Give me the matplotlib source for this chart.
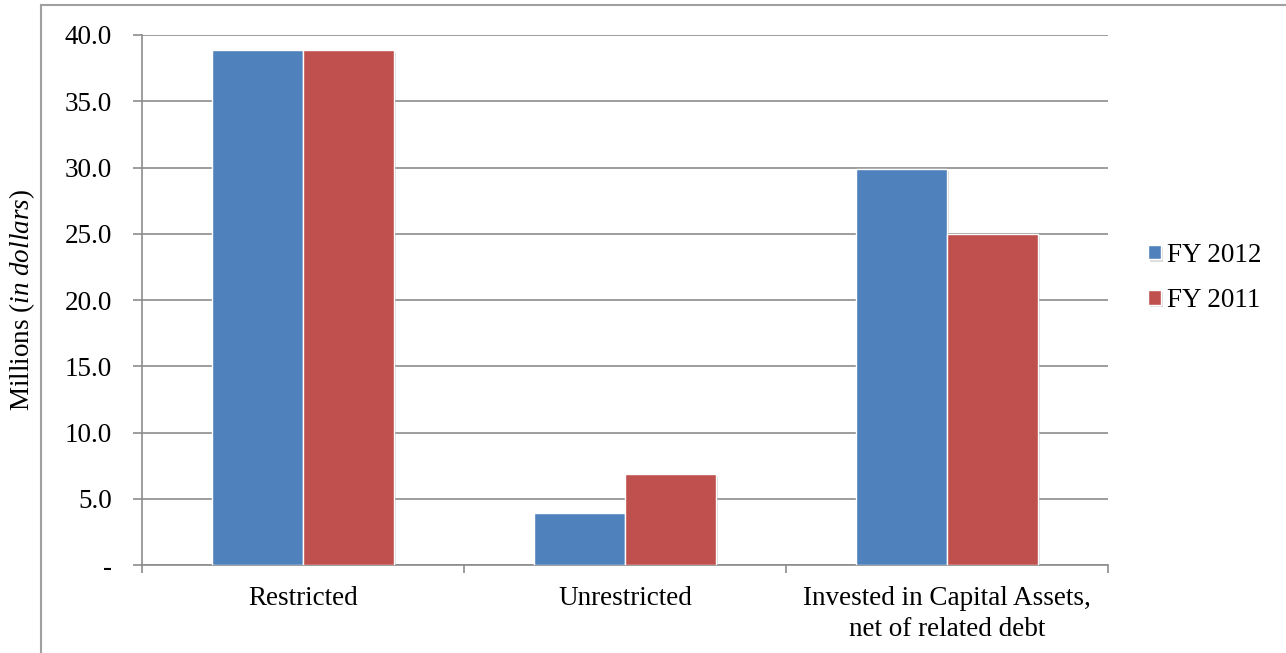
import matplotlib.pyplot as plt
import matplotlib.patheffects as pe
from matplotlib.lines import Line2D
import numpy as np

categories = ['Restricted', 'Unrestricted', 'Invested in Capital Assets,\nnet of related debt']
fy2012 = [38.9, 3.9, 29.9]
fy2011 = [38.9, 6.9, 25.0]
yticks = [0, 5, 10, 15, 20, 25, 30, 35, 40]
ytick_labels = ['-', '5.0', '10.0', '15.0', '20.0', '25.0', '30.0', '35.0', '40.0']

plt.rcParams['font.family'] = ['Liberation Serif', 'DejaVu Serif']
plt.rcParams['mathtext.fontset'] = 'custom'
plt.rcParams['mathtext.rm'] = 'Liberation Serif'
plt.rcParams['mathtext.it'] = 'Liberation Serif:italic'
fs = 19.5

fig = plt.figure(figsize=(12.86, 6.53), dpi=100)
ax = fig.add_axes([142 / 1286, 88 / 653, 966 / 1286, 530 / 653])

x = np.arange(len(categories))
w = 0.283
shadow = [pe.SimplePatchShadow(offset=(1.5, -1.5), shadow_rgbFace='#999999', alpha=0.35), pe.Normal()]
ax.bar(x - w / 2, fy2012, w, color='#4f81bd', edgecolor='white', linewidth=1,
       label='FY 2012', path_effects=shadow, zorder=3)
ax.bar(x + w / 2, fy2011, w, color='#c0504d', edgecolor='white', linewidth=1,
       label='FY 2011', path_effects=shadow, zorder=3)

ax.set_xlim(-0.5, 2.5)
ax.set_ylim(0, 40)
ax.set_yticks(yticks)
ax.set_yticklabels(ytick_labels, fontsize=fs)
ax.yaxis.grid(True, color='#8c8c8c', linewidth=1.2, zorder=0)
ax.set_axisbelow(True)

# category labels centred, tick marks on the category boundaries
ax.set_xticks(x)
ax.set_xticklabels(categories, fontsize=fs, linespacing=1.3)
ax.tick_params(axis='x', length=0, pad=15)
ax.set_xticks([-0.5, 0.5, 1.5, 2.5], minor=True)
ax.tick_params(axis='x', which='minor', length=6, color='#8c8c8c', width=1.2)
ax.tick_params(axis='y', length=6.5, color='#8c8c8c', width=1.2, pad=15)

for s in ['top', 'right']:
    ax.spines[s].set_visible(False)
for s in ['left', 'bottom']:
    ax.spines[s].set_color('#8c8c8c')
    ax.spines[s].set_linewidth(1.2)

ax.set_ylabel(r'Millions ($\mathit{in\ dollars}$)', fontsize=fs)
ax.yaxis.set_label_coords(-0.109, 0.5)

fig.legend(loc='center left', bbox_to_anchor=(1124 / 1286, 1 - 278 / 653),
           frameon=False, fontsize=fs, handlelength=0.45, handleheight=0.45,
           handletextpad=0.25, labelspacing=0.75)

# outer chart border (left and top edges visible)
fig.add_artist(Line2D([41 / 1286, 41 / 1286], [0, 1 - 5 / 653], color='#a0a0a0', linewidth=1.5))
fig.add_artist(Line2D([41 / 1286, 1], [1 - 5 / 653, 1 - 5 / 653], color='#a0a0a0', linewidth=1.5))

plt.savefig('out.png', dpi=100)
